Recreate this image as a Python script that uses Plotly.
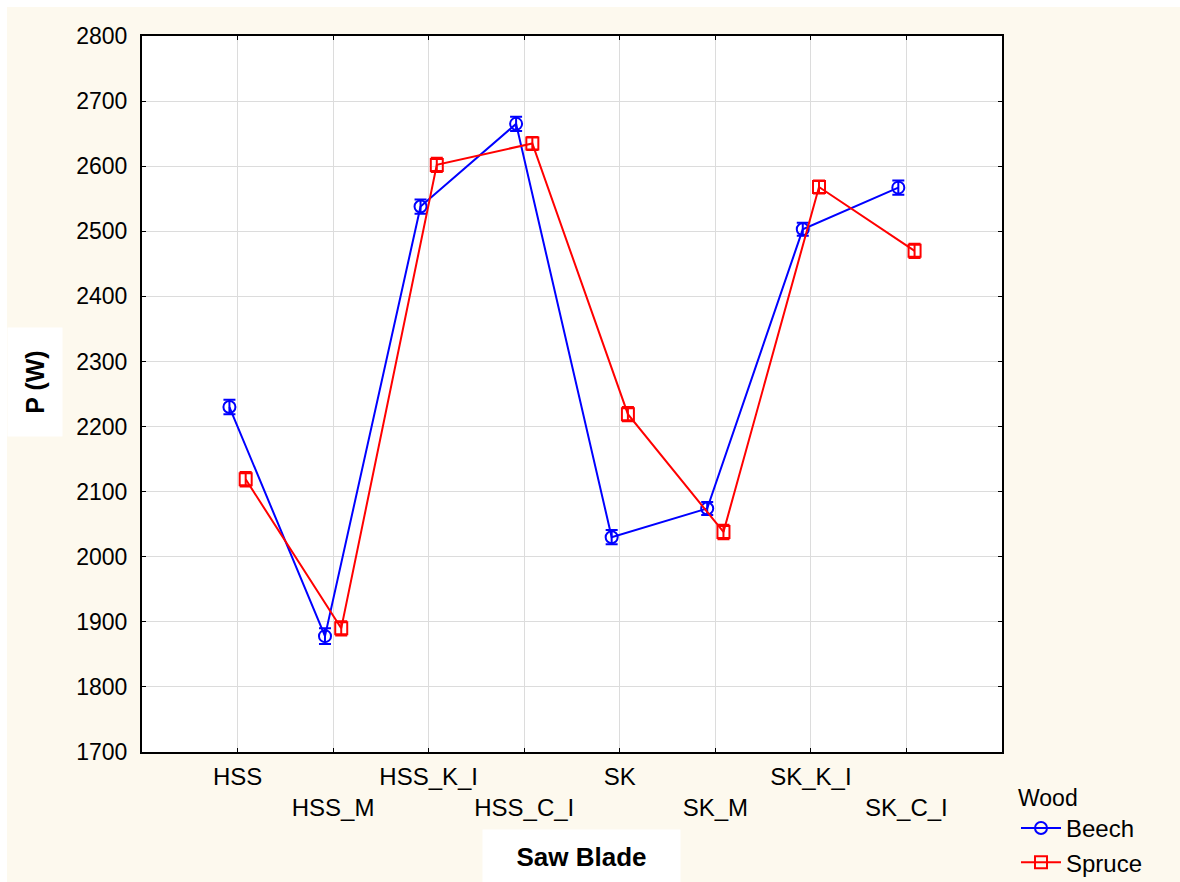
import plotly.graph_objects as go

categories = ["HSS", "HSS_M", "HSS_K_I", "HSS_C_I", "SK", "SK_M", "SK_K_I", "SK_C_I"]
beech = [2230, 1878, 2538, 2665, 2030, 2074, 2503, 2567]
beech_err = [11, 12, 11, 11, 11, 10, 10, 11]
spruce = [2119, 1890, 2602, 2635, 2219, 2038, 2568, 2470]
spruce_err = [11, 11, 11, 10, 11, 11, 10, 11]
y_ticks = [1700, 1800, 1900, 2000, 2100, 2200, 2300, 2400, 2500, 2600, 2700, 2800]

idx = list(range(len(categories)))
off = 0.085
tick_text = [c if i % 2 == 0 else "<br>" + c for i, c in enumerate(categories)]

FONT = "Liberation Sans, Arial, sans-serif"
CREAM = "#FDF9EE"
fig = go.Figure()
fig.add_trace(go.Scatter(
    x=[i - off for i in idx], y=beech, name="Beech", mode="lines+markers",
    line=dict(color="#0000FF", width=2),
    marker=dict(symbol="circle-open", size=12, color="#0000FF", line=dict(width=2)),
    error_y=dict(type="data", array=beech_err, color="#0000FF", thickness=2, width=6),
))
fig.add_trace(go.Scatter(
    x=[i + off for i in idx], y=spruce, name="Spruce", mode="lines+markers",
    line=dict(color="#FF0000", width=2),
    marker=dict(symbol="square-open", size=12, color="#FF0000", line=dict(width=2)),
    error_y=dict(type="data", array=spruce_err, color="#FF0000", thickness=2, width=6),
))

W, H = 1180, 882
ml, mr, mt, mb = 142, 178, 36, 130
pw, ph = W - ml - mr, H - mt - mb

def px_x(px):
    return (px - ml) / pw

def px_y(py):
    return (H - mb - py) / ph

# thin white strips at top and left edges
fig.add_shape(type="rect", xref="paper", yref="paper",
              x0=px_x(-5), x1=px_x(W + 5), y0=px_y(7), y1=px_y(-5),
              fillcolor="white", line=dict(width=0), layer="below")
fig.add_shape(type="rect", xref="paper", yref="paper",
              x0=px_x(-5), x1=px_x(7), y0=px_y(H + 5), y1=px_y(-5),
              fillcolor="white", line=dict(width=0), layer="below")

fig.add_annotation(text="<b>P (W)</b>", xref="paper", yref="paper",
                   x=px_x(35), y=px_y(382), textangle=-90, showarrow=False,
                   font=dict(family=FONT, size=25, color="black"),
                   bgcolor="white", borderpad=4, width=100, height=46,
                   xanchor="center", yanchor="middle")
fig.add_annotation(text="<b>Saw Blade</b>", xref="paper", yref="paper",
                   x=px_x(581), y=px_y(857), showarrow=False,
                   font=dict(family=FONT, size=26, color="black"),
                   bgcolor="white", borderpad=4, width=189, height=46,
                   xanchor="center", yanchor="middle")

axis_common = dict(showline=True, linecolor="black", linewidth=2, mirror="ticks",
                   ticks="inside", ticklen=4, tickcolor="black", tickwidth=1,
                   showgrid=True, gridcolor="#DCDCDC", gridwidth=1, zeroline=False)
fig.update_xaxes(range=[-1, 8], tickmode="array", tickvals=idx, ticktext=tick_text,
                 tickangle=0,
                 tickfont=dict(family=FONT, size=24, color="black"),
                 ticklabelstandoff=2, **axis_common)
fig.update_yaxes(range=[1700, 2800], tickmode="array", tickvals=y_ticks,
                 ticktext=[str(v) for v in y_ticks],
                 tickfont=dict(family=FONT, size=23, color="black"),
                 ticklabelstandoff=8, **axis_common)

fig.update_layout(
    width=W, height=H, margin=dict(l=ml, r=mr, t=mt, b=mb, autoexpand=False),
    paper_bgcolor=CREAM, plot_bgcolor="white",
    font=dict(family=FONT, size=24, color="black"),
    showlegend=True,
    legend=dict(title=dict(text="Wood", font=dict(family=FONT, size=23)),
                x=px_x(1016), y=px_y(776), xanchor="left", yanchor="top",
                bgcolor="rgba(0,0,0,0)", font=dict(family=FONT, size=24),
                tracegroupgap=0, itemwidth=40),
)
fig.write_html("out.html")
